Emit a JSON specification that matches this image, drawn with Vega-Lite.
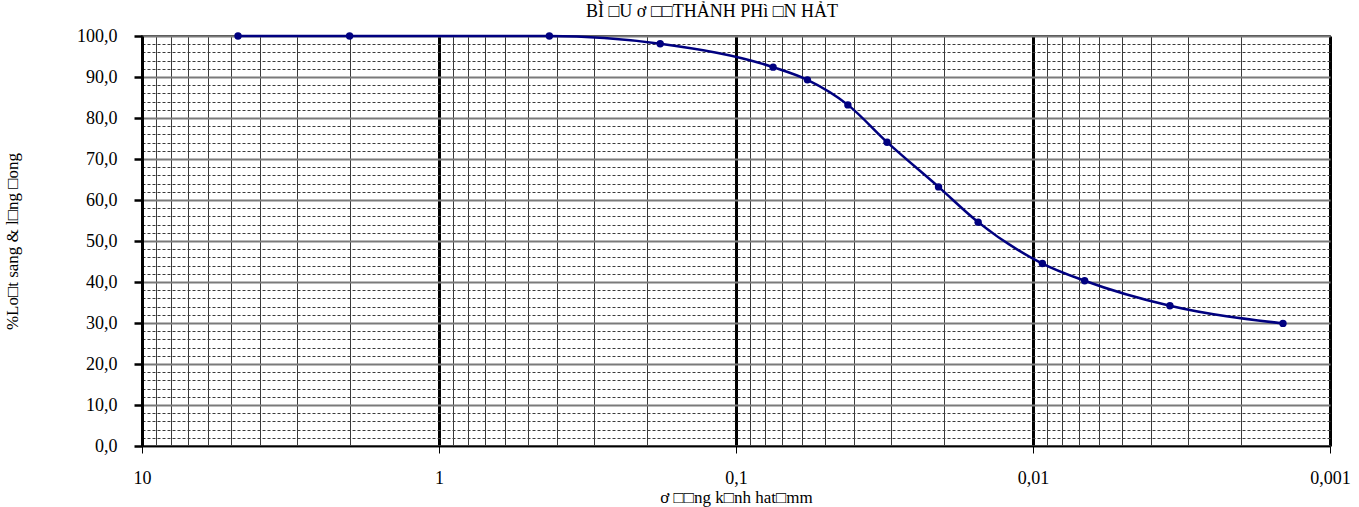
{
  "$schema": "https://vega.github.io/schema/vega-lite/v6.json",
  "width": 1188,
  "height": 410,
  "autosize": {"type": "none"},
  "padding": {"left": 142, "top": 36, "right": 29, "bottom": 61},
  "background": "white",
  "config": {
    "font": "Liberation Serif",
    "view": {"stroke": "black", "strokeWidth": 1.5}
  },
  "title": {
    "text": "BÌ □U ơ □□THẢNH PHì □N HẢT",
    "font": "Liberation Serif",
    "fontSize": 18,
    "fontWeight": "normal",
    "color": "black",
    "offset": 6,
    "dx": -24
  },
  "data": {
    "values": [
      {"d": 4.75, "p": 100},
      {"d": 2.0, "p": 100},
      {"d": 0.425, "p": 100},
      {"d": 0.18, "p": 98.1},
      {"d": 0.075, "p": 92.4},
      {"d": 0.0575, "p": 89.3},
      {"d": 0.042, "p": 83.2},
      {"d": 0.031, "p": 74.1},
      {"d": 0.0208, "p": 63.2},
      {"d": 0.0153, "p": 54.6},
      {"d": 0.0093, "p": 44.5},
      {"d": 0.0067, "p": 40.3},
      {"d": 0.00346, "p": 34.2},
      {"d": 0.00144, "p": 29.9}
    ]
  },
  "encoding": {
    "x": {
      "field": "d",
      "type": "quantitative",
      "scale": {"type": "log", "domain": [0.001, 10], "reverse": true, "nice": false},
      "axis": {
        "title": "ơ □□ng k□nh hat□mm",
        "values": [0.001, 0.002, 0.003, 0.004, 0.005, 0.006, 0.007, 0.008, 0.009,
                   0.01, 0.02, 0.03, 0.04, 0.05, 0.06, 0.07, 0.08, 0.09,
                   0.1, 0.2, 0.3, 0.4, 0.5, 0.6, 0.7, 0.8, 0.9,
                   1, 2, 3, 4, 5, 6, 7, 8, 9, 10],
        "labelExpr": "abs(log(datum.value)/LN10 - round(log(datum.value)/LN10)) < 0.000001 ? replace(format(datum.value, '~g'), '.', ',') : ''",
        "labelOverlap": false,
        "labelFlush": false,
        "labelFont": "Liberation Serif",
        "labelFontSize": 18,
        "labelColor": "black",
        "labelPadding": 16,
        "grid": true,
        "gridColor": {"condition": {"test": "abs(log(datum.value)/LN10 - round(log(datum.value)/LN10)) < 0.000001", "value": "black"}, "value": "#3a3a3a"},
        "gridWidth": {"condition": {"test": "abs(log(datum.value)/LN10 - round(log(datum.value)/LN10)) < 0.000001", "value": 3}, "value": 1},
        "gridOpacity": 1,
        "ticks": true,
        "tickSize": 7,
        "tickWidth": 1,
        "tickColor": "black",
        "tickOpacity": {"condition": {"test": "abs(log(datum.value)/LN10 - round(log(datum.value)/LN10)) < 0.000001", "value": 1}, "value": 0},
        "domainColor": "black",
        "domainWidth": 1.5,
        "titleFont": "Liberation Serif",
        "titleFontSize": 17,
        "titleFontWeight": "normal",
        "titleColor": "black",
        "titlePadding": 2
      }
    },
    "y": {
      "field": "p",
      "type": "quantitative",
      "scale": {"domain": [0, 100], "nice": false},
      "axis": {
        "title": "%Lo□t sang & l□ng □ong",
        "values": [0, 2, 4, 6, 8, 10, 12, 14, 16, 18, 20, 22, 24, 26, 28, 30, 32, 34, 36, 38, 40,
                   42, 44, 46, 48, 50, 52, 54, 56, 58, 60, 62, 64, 66, 68, 70, 72, 74, 76, 78, 80,
                   82, 84, 86, 88, 90, 92, 94, 96, 98, 100],
        "labelExpr": "datum.value % 10 == 0 ? replace(format(datum.value, '.1f'), '.', ',') : ''",
        "labelOverlap": false,
        "labelFlush": false,
        "labelFont": "Liberation Serif",
        "labelFontSize": 18,
        "labelColor": "black",
        "labelPadding": 17,
        "grid": true,
        "gridColor": {"condition": {"test": "datum.value % 10 == 0", "value": "#7a7a7a"}, "value": "#3a3a3a"},
        "gridWidth": {"condition": {"test": "datum.value % 10 == 0", "value": 2}, "value": 1},
        "gridDash": {"condition": {"test": "datum.value % 10 == 0", "value": []}, "value": [3, 2]},
        "gridOpacity": 1,
        "tickSize": 8,
        "tickWidth": 2.5,
        "tickColor": "black",
        "tickOpacity": {"condition": {"test": "datum.value % 10 == 0", "value": 1}, "value": 0},
        "domainColor": "black",
        "domainWidth": 3,
        "titleFont": "Liberation Serif",
        "titleFontSize": 17,
        "titleFontWeight": "normal",
        "titleColor": "black",
        "titlePadding": 55
      }
    },
    "order": {"field": "d", "sort": "descending"}
  },
  "layer": [
    {"mark": {"type": "line", "color": "#000080", "strokeWidth": 2.5, "interpolate": "monotone"}},
    {"mark": {"type": "point", "filled": true, "color": "#000080", "size": 55, "opacity": 1}}
  ]
}
